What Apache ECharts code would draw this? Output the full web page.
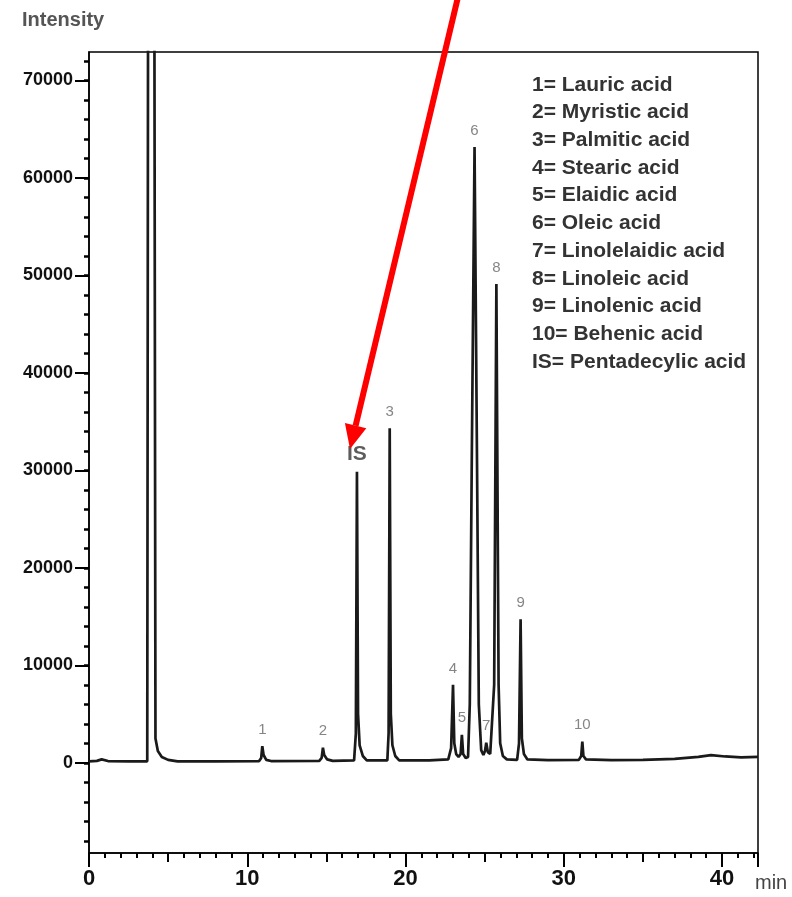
<!DOCTYPE html>
<html><head><meta charset="utf-8">
<script src="https://cdn.jsdelivr.net/npm/echarts@6/dist/echarts.min.js"></script>
<style>html,body{margin:0;padding:0;background:#fff}#c{width:792px;height:897px}</style>
</head><body><div id="c"></div>
<script>
// chromatogram trace (time in min, intensity)
const traceTime = [0,0.5,0.8,1.2,2.5,3.68,3.74,4.12,4.2,4.35,4.6,5.0,5.6,8.0,
  10.75,10.88,10.95,11.03,11.2,11.5,
  14.55,14.7,14.78,14.86,15.05,15.4,
  16.75,16.86,16.93,17.0,17.1,17.3,17.55,
  18.85,18.93,19.0,19.07,19.17,19.35,19.6,21.5,
  22.7,22.88,23.0,23.08,23.2,23.35,23.48,23.56,23.64,23.8,
  23.95,24.06,24.18,24.36,24.52,24.63,24.78,24.92,25.02,25.1,25.2,25.35,
  25.45,25.6,25.74,25.88,25.98,26.15,26.4,
  27.05,27.17,27.27,27.35,27.48,27.7,29.0,
  30.95,31.1,31.17,31.24,31.4,33.0,35.0,37.0,38.5,39.3,40.2,41.2,42.27];
const traceIntensity = [150,200,350,180,150,150,90000,90000,2500,1200,600,300,150,150,
  180,500,1700,800,300,180,
  200,500,1550,800,350,200,
  250,3000,29860,5000,1800,700,250,
  250,3000,34300,5000,1800,700,250,250,
  350,1500,7990,2000,900,600,900,2870,900,500,
  600,6000,30000,63165,30000,6000,1300,800,1200,2050,1100,900,
  900,8000,49100,8000,2000,700,350,
  300,2000,14730,2500,900,350,280,
  300,700,2180,700,350,280,300,400,600,780,650,550,600];

const peakNames = ['1','2','IS','3','4','5','6','7','8','9','10'];
const peakTimes = [10.95,14.78,16.93,19.0,23.0,23.56,24.36,25.1,25.74,27.27,31.17];
const peakHeights = [1700,1550,29860,34300,7990,2870,63165,2050,49100,14730,2180];

const legendLines = ['1= Lauric acid','2= Myristic acid','3= Palmitic acid','4= Stearic acid',
  '5= Elaidic acid','6= Oleic acid','7= Linolelaidic acid','8= Linoleic acid',
  '9= Linolenic acid','10= Behenic acid','IS= Pentadecylic acid'];

const yTickValues = [0,10000,20000,30000,40000,50000,60000,70000];
const xTickValues = [0,10,20,30,40];
const xMidTicks = [5,15,25,35];
const yMinorTicks = [];
for (let v = -8000; v <= 72000; v += 2000) yMinorTicks.push(v);

const X_MIN = 0, X_MAX = 42.27, Y_MIN = -9250, Y_MAX = 72900;
const SANS = "'Liberation Sans', Arial, sans-serif";

const chart = echarts.init(document.getElementById('c'), null, {renderer:'canvas'});
const trace = traceTime.map((t,i)=>[t, traceIntensity[i]]);
const peaks = peakNames.map((n,i)=>{
  const d = {name:n, value:[peakTimes[i], peakHeights[i]]};
  if (n === 'IS') d.label = {fontSize:21, fontWeight:'bold', color:'#333', distance:7, fontFamily:SANS};
  return d;
});

chart.setOption({
  animation:false,
  backgroundColor:'#fff',
  grid:{left:89, right:34, top:52, bottom:44, show:true, borderColor:'#000', borderWidth:1.5, backgroundColor:'transparent'},
  xAxis:[{
    type:'value', min:X_MIN, max:X_MAX, interval:10,
    axisLine:{show:true, onZero:false, lineStyle:{color:'#000', width:1.5}},
    axisTick:{show:true, length:14, lineStyle:{color:'#000', width:2}},
    minorTick:{show:true, splitNumber:10, length:5, lineStyle:{color:'#000', width:2}},
    splitLine:{show:false},
    axisLabel:{show:true, margin:15, color:'#111', fontSize:22, fontWeight:'bold', fontFamily:SANS,
      customValues:xTickValues, formatter:v=>String(v)}
  },{
    type:'value', min:X_MIN, max:X_MAX, position:'bottom',
    axisLine:{show:false, onZero:false}, axisLabel:{show:false}, splitLine:{show:false},
    axisTick:{show:true, length:9, customValues:xMidTicks, lineStyle:{color:'#000', width:2}}
  }],
  yAxis:[{
    type:'value', min:Y_MIN, max:Y_MAX,
    axisLine:{show:true, onZero:false, lineStyle:{color:'#000', width:1.5}},
    axisTick:{show:true, length:14, customValues:yTickValues, lineStyle:{color:'#000', width:2}},
    splitLine:{show:false},
    axisLabel:{show:true, margin:16, color:'#111', fontSize:18, fontWeight:'bold', fontFamily:SANS,
      customValues:yTickValues, formatter:v=>String(v)}
  },{
    type:'value', min:Y_MIN, max:Y_MAX, position:'left',
    axisLine:{show:false, onZero:false}, axisLabel:{show:false}, splitLine:{show:false},
    axisTick:{show:true, length:5, customValues:yMinorTicks, lineStyle:{color:'#000', width:2.5}}
  }],
  series:[{
    type:'line', data:trace, showSymbol:false, symbol:'none', clip:true,
    lineStyle:{color:'#1a1a1a', width:2.7}, z:3
  },{
    type:'scatter', data:peaks, symbolSize:0, z:4,
    label:{show:true, position:'top', distance:9, formatter:p=>p.name, color:'#666', fontSize:15, fontFamily:SANS}
  }],
  graphic:[
    {type:'text', left:22, top:10, style:{text:'Intensity', font:'bold 20px "Liberation Sans", Arial, sans-serif', fill:'#555'}},
    {type:'text', left:755, top:873, style:{text:'min', font:'20px "Liberation Sans", Arial, sans-serif', fill:'#444'}},
    {type:'text', left:532, top:71, style:{text:legendLines.join('\n'), font:'bold 21px "Liberation Sans", Arial, sans-serif', fill:'#333', lineHeight:27.7}},
    {type:'line', shape:{x1:458, y1:-3, x2:355.6, y2:425.7}, style:{stroke:'#ff0000', lineWidth:6}, z:100},
    {type:'polygon', shape:{points:[[350,449],[366.3,428.3],[344.9,423.1]]}, style:{fill:'#ff0000'}, z:100}
  ]
});
</script></body></html>
